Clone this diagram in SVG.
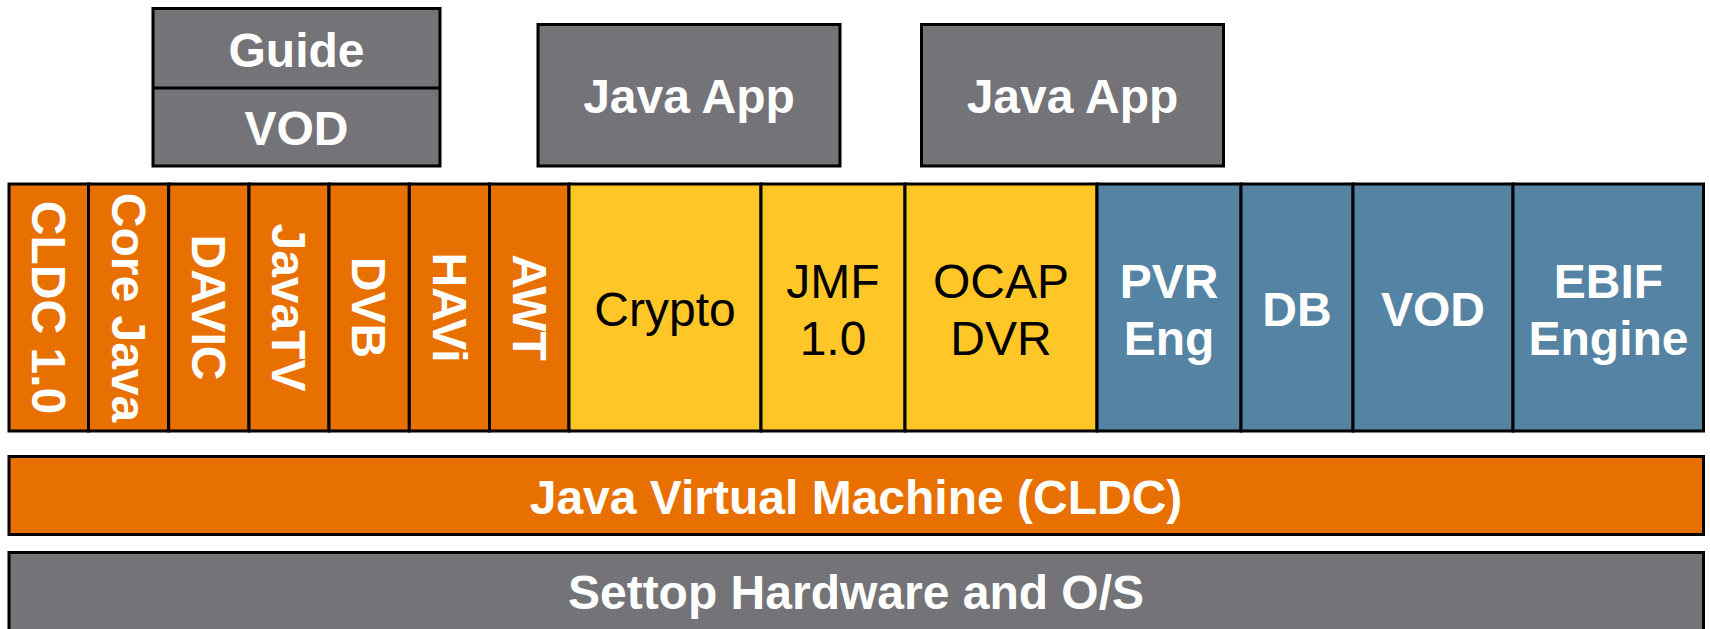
<svg xmlns="http://www.w3.org/2000/svg" width="1710" height="629" viewBox="0 0 1710 629">
<style>
.g,.o,.y,.b{stroke:#000;stroke-width:3}
.g{fill:#737378}
.o{fill:#E87000}
.y{fill:#FFC627}
.b{fill:#5583A3}
text{font-family:"Liberation Sans",Arial,sans-serif;font-size:48px;text-anchor:middle}
.w{fill:#fff;font-weight:bold}
.k{fill:#000}
</style>
<rect x="0" y="0" width="1710" height="629" fill="#fff"/>
<g id="guide-vod">
<rect class="g" x="153" y="8.5" width="287" height="157.5"/>
<line x1="153" y1="88" x2="440" y2="88" stroke="#000" stroke-width="3"/>
<text class="w" x="296.5" y="66.5">Guide</text>
<text class="w" x="296.5" y="145">VOD</text>
</g>
<g id="javaapp1">
<rect class="g" x="538" y="24.5" width="302" height="141.5"/>
<text class="w" x="689" y="112.5">Java App</text>
</g>
<g id="javaapp2">
<rect class="g" x="921.5" y="24.5" width="302" height="141.5"/>
<text class="w" x="1072.5" y="112.5">Java App</text>
</g>
<g id="cldc"><rect class="o" x="9" y="184" width="79.5" height="247"/><text class="w" transform="translate(31.5,307.5) rotate(90)">CLDC 1.0</text></g>
<g id="corejava"><rect class="o" x="88.5" y="184" width="80.2" height="247"/><text class="w" transform="translate(111.5,307.5) rotate(90)">Core Java</text></g>
<g id="davic"><rect class="o" x="168.7" y="184" width="80.3" height="247"/><text class="w" transform="translate(192,307.5) rotate(90)">DAVIC</text></g>
<g id="javatv"><rect class="o" x="249" y="184" width="80" height="247"/><text class="w" transform="translate(272,307.5) rotate(90)">JavaTV</text></g>
<g id="dvb"><rect class="o" x="329" y="184" width="80.3" height="247"/><text class="w" transform="translate(352,307.5) rotate(90)">DVB</text></g>
<g id="havi"><rect class="o" x="409.3" y="184" width="80.2" height="247"/><text class="w" transform="translate(432.5,307.5) rotate(90)">HAVi</text></g>
<g id="awt"><rect class="o" x="489.5" y="184" width="79.5" height="247"/><text class="w" transform="translate(512.5,307.5) rotate(90)">AWT</text></g>
<g id="crypto"><rect class="y" x="569" y="184" width="192" height="247"/><text class="k" x="665" y="326">Crypto</text></g>
<g id="jmf"><rect class="y" x="761" y="184" width="144" height="247"/><text class="k" x="833" y="297.5">JMF</text><text class="k" x="833" y="355">1.0</text></g>
<g id="ocapdvr"><rect class="y" x="905" y="184" width="192" height="247"/><text class="k" x="1001" y="297.5">OCAP</text><text class="k" x="1001" y="355">DVR</text></g>
<g id="pvr"><rect class="b" x="1097" y="184" width="144" height="247"/><text class="w" x="1169" y="297.5">PVR</text><text class="w" x="1169" y="355">Eng</text></g>
<g id="db"><rect class="b" x="1241" y="184" width="112" height="247"/><text class="w" x="1297" y="326">DB</text></g>
<g id="vod"><rect class="b" x="1353" y="184" width="160" height="247"/><text class="w" x="1433" y="326">VOD</text></g>
<g id="ebif"><rect class="b" x="1513" y="184" width="190.5" height="247"/><text class="w" x="1608.5" y="297.5">EBIF</text><text class="w" x="1608.5" y="355">Engine</text></g>
<g id="jvm"><rect class="o" x="9" y="456.5" width="1694.5" height="78"/><text class="w" x="856" y="513.5">Java Virtual Machine (CLDC)</text></g>
<g id="settop"><rect class="g" x="9" y="552.5" width="1694.5" height="90"/><text class="w" x="856" y="608.5">Settop Hardware and O/S</text></g>
<g id="connectors"/>
</svg>
